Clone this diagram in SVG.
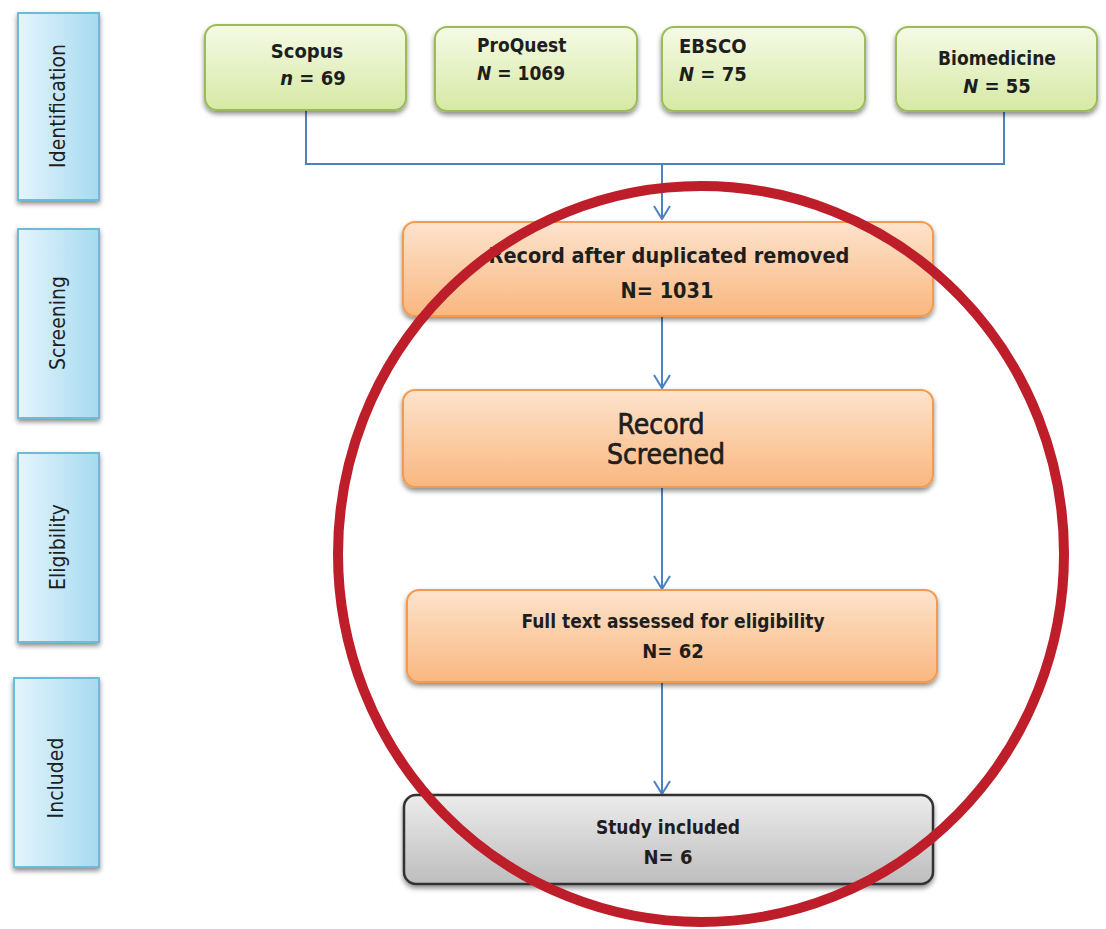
<svg xmlns="http://www.w3.org/2000/svg" width="1106" height="929" viewBox="0 0 1106 929">
<defs>
<linearGradient id="gBlue" x1="0" y1="0" x2="1" y2="0"><stop offset="0" stop-color="#e4f5fc"/><stop offset="1" stop-color="#a6daef"/></linearGradient>
<linearGradient id="gGreen" x1="0" y1="0" x2="0" y2="1"><stop offset="0" stop-color="#f5fae6"/><stop offset="1" stop-color="#d6e9a3"/></linearGradient>
<linearGradient id="gOrange" x1="0" y1="0" x2="0" y2="1"><stop offset="0" stop-color="#fde3cc"/><stop offset="1" stop-color="#f9b77f"/></linearGradient>
<linearGradient id="gGrey" x1="0" y1="0" x2="0" y2="1"><stop offset="0" stop-color="#ececec"/><stop offset="1" stop-color="#bdbdbd"/></linearGradient>
<filter id="sh" x="-10%" y="-10%" width="120%" height="130%"><feDropShadow dx="0" dy="3" stdDeviation="2.5" flood-color="#000" flood-opacity="0.45"/></filter>
<marker id="arr" viewBox="0 0 15 18" refX="14" refY="9" markerWidth="15" markerHeight="18" markerUnits="userSpaceOnUse" orient="auto">
<path d="M1 1 L14 9 L1 17" fill="none" stroke="#4f81bd" stroke-width="2"/>
</marker>
</defs>
<style>
.side rect{fill:url(#gBlue);stroke:#6bbcd9;stroke-width:2;filter:url(#sh)}
.green rect{fill:url(#gGreen);stroke:#9bbb59;stroke-width:2;filter:url(#sh)}
.orange rect{fill:url(#gOrange);stroke:#f59a4e;stroke-width:2;filter:url(#sh)}
.grey rect{fill:url(#gGrey);stroke:#333;stroke-width:2.5;filter:url(#sh)}
text{font-family:"DejaVu Sans Condensed","DejaVu Sans",sans-serif;fill:#1e1e1e;font-weight:bold}
.sl{font-size:21px;text-anchor:middle;font-weight:normal}
.c{text-anchor:middle}
.s19{font-size:19px}
.s20{font-size:20px}
.s21{font-size:21.5px}
.s28{font-size:28px;font-weight:normal;stroke:#1e1e1e;stroke-width:0.7}
.conn{fill:none;stroke:#4f81bd;stroke-width:2}
</style>
<rect width="1106" height="929" fill="#fff"/>
<g id="side-identification" class="side"><rect x="18" y="13" width="81" height="187"/><text class="sl" transform="translate(65,106) rotate(-90)">Identification</text></g>
<g id="side-screening" class="side"><rect x="18" y="229" width="81" height="189"/><text class="sl" transform="translate(65,323) rotate(-90)">Screening</text></g>
<g id="side-eligibility" class="side"><rect x="18" y="453" width="81" height="189"/><text class="sl" transform="translate(65,547) rotate(-90)">Eligibility</text></g>
<g id="side-included" class="side"><rect x="14" y="678" width="85" height="189"/><text class="sl" transform="translate(63,778) rotate(-90)">Included</text></g>

<g id="connectors">
<path class="conn" d="M306 111 V164 H1004 V112"/>
<path class="conn" d="M662 164 V219" marker-end="url(#arr)"/>
<path class="conn" d="M662 316 V388" marker-end="url(#arr)"/>
<path class="conn" d="M662 487 V589" marker-end="url(#arr)"/>
<path class="conn" d="M662 682 V794" marker-end="url(#arr)"/>
</g>

<g id="scopus" class="green"><rect x="205" y="25" width="201" height="85" rx="12"/><text class="c s20" x="307" y="58">Scopus</text><text class="c s20" x="313" y="85"><tspan font-style="italic">n</tspan> = 69</text></g>
<g id="proquest" class="green"><rect x="435" y="27" width="202" height="84" rx="12"/><text class="s19" x="477" y="52">ProQuest</text><text class="s19" x="477" y="80"><tspan font-style="italic">N</tspan> = 1069</text></g>
<g id="ebsco" class="green"><rect x="662" y="27" width="203" height="84" rx="12"/><text class="s20" x="679" y="53">EBSCO</text><text class="s20" x="679" y="81"><tspan font-style="italic">N</tspan> = 75</text></g>
<g id="biomedicine" class="green"><rect x="896" y="27" width="201" height="84" rx="12"/><text class="c s19" x="997" y="65">Biomedicine</text><text class="c s20" x="997" y="93"><tspan font-style="italic">N</tspan> = 55</text></g>

<g id="record-dup" class="orange"><rect x="403" y="222" width="530" height="94" rx="12"/><text class="c s21" x="669" y="263">Record after duplicated removed</text><text class="c s21" x="667" y="298">N= 1031</text></g>
<g id="record-screened" class="orange"><rect x="403" y="390" width="530" height="97" rx="12"/><text class="c s28" x="661" y="434">Record</text><text class="c s28" x="666" y="464">Screened</text></g>
<g id="full-text" class="orange"><rect x="407" y="590" width="530" height="92" rx="12"/><text class="c s19" x="673" y="628">Full text assessed for eligibility</text><text class="c s20" x="673" y="658">N= 62</text></g>
<g id="study-included" class="grey"><rect x="404" y="795" width="529" height="89" rx="12"/><text class="c s19" x="668" y="834">Study included</text><text class="c s20" x="668" y="864">N= 6</text></g>

<ellipse id="highlight" cx="701" cy="554" rx="363" ry="368" fill="none" stroke="#be1e2a" stroke-width="10"/>
</svg>
